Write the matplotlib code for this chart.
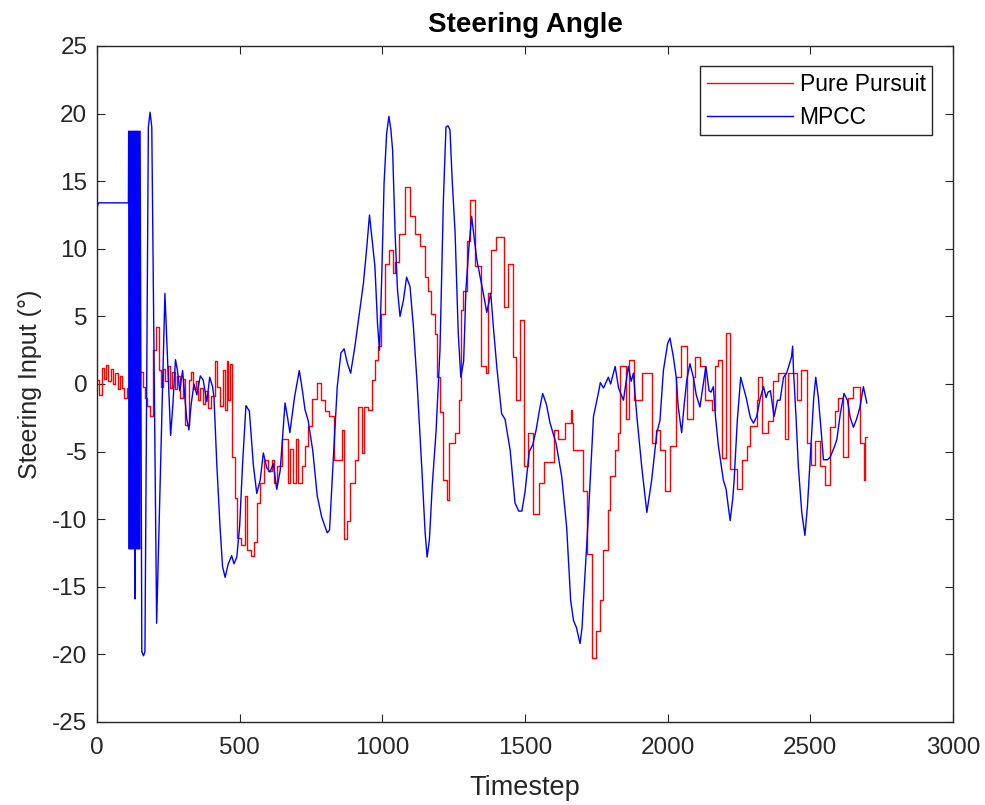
import matplotlib
matplotlib.use("Agg")
import matplotlib.pyplot as plt

plt.rcParams['font.family'] = ['Liberation Sans', 'DejaVu Sans']
plt.rcParams['axes.unicode_minus'] = False

# Pure Pursuit (step levels: start timestep, value)
pp_t = [0, 8, 16, 24, 32, 40, 48, 56, 64, 72, 80, 88, 96, 104, 112, 125, 140, 151, 160, 168,
        176, 186, 197, 208, 218, 223, 232, 240, 248, 256, 264, 272, 280, 290, 300, 308, 322, 330, 338, 346,
        354, 362, 372, 380, 390, 400, 414, 420, 430, 440, 448, 454, 460, 466, 472, 484, 492, 505, 518, 524,
        540, 550, 560, 572, 586, 600, 612, 620, 630, 650, 668, 676, 686, 696, 706, 718, 728, 740, 752, 770,
        785, 800, 812, 830, 860, 866, 876, 888, 903, 915, 929, 937, 950, 964, 976, 985, 997, 1010, 1024, 1037,
        1046, 1060, 1080, 1098, 1114, 1132, 1150, 1161, 1172, 1183, 1193, 1202, 1211, 1226, 1235, 1255, 1268, 1274, 1284, 1297,
        1307, 1326, 1345, 1362, 1369, 1382, 1400, 1426, 1442, 1459, 1468, 1483, 1495, 1512, 1527, 1550, 1565, 1600, 1617, 1640,
        1660, 1664, 1669, 1703, 1718, 1735, 1749, 1764, 1775, 1790, 1798, 1815, 1827, 1833, 1853, 1866, 1882, 1909, 1944, 1960,
        1973, 1990, 2007, 2028, 2046, 2067, 2090, 2096, 2113, 2131, 2154, 2166, 2177, 2189, 2206, 2218, 2244, 2259, 2277, 2288,
        2312, 2318, 2329, 2353, 2370, 2388, 2411, 2423, 2452, 2469, 2487, 2501, 2517, 2534, 2552, 2569, 2587, 2598, 2616, 2633,
        2651, 2674, 2688, 2692, 2700]
pp_v = [0.3, -0.8, 1.2, 0.4, 1.4, 0.2, 1.1, 0.0, 0.8, -0.4, 0.6, -0.3, -1.0, -0.3, 0.0, 0.3, 0.0, 0.9, -0.2, -1.0,
        -1.6, -2.4, 2.5, 4.2, 1.0, -0.2, 1.1, 0.2, 1.3, -0.3, 0.9, -0.4, 0.6, -1.0, 0.4, -3.0, 0.3, 0.9, -0.4, 0.2,
        -1.2, -0.3, -1.5, -0.5, -1.8, -0.9, 1.7, -0.2, -1.6, 1.0, -1.9, 1.7, -1.2, 1.5, -5.4, -8.4, -11.4, -11.9, -8.3, -12.3,
        -12.7, -11.7, -8.8, -7.3, -5.6, -6.4, -5.6, -7.3, -6.1, -4.1, -7.3, -4.8, -7.3, -4.1, -7.3, -6.1, -4.6, -3.1, -1.1, 0.1,
        -1.2, -2.0, -2.4, -5.6, -3.4, -11.5, -10.1, -7.3, -5.6, -1.7, -5.1, -1.7, -1.9, 0.3, 1.8, 2.8, 5.2, 8.9, 9.9, 8.2,
        9.0, 11.1, 14.6, 12.4, 11.1, 10.2, 7.9, 6.9, 5.2, 3.7, 0.5, -2.1, -7.1, -8.6, -4.4, -3.6, -1.2, 5.5, 6.9, 10.6,
        13.6, 8.7, 1.3, 0.8, 6.7, 9.9, 10.9, 5.7, 8.9, 2.0, -1.2, 4.7, -6.1, -3.6, -9.6, -7.3, -5.8, -3.4, -4.1, -2.9,
        -1.9, -2.9, -4.9, -7.9, -12.6, -20.3, -18.3, -16.0, -12.3, -9.3, -6.8, -4.9, -3.6, 1.3, -2.6, 1.8, -1.2, 0.8, -4.4, -3.4,
        -4.9, -7.9, -4.6, 0.5, 2.8, -2.6, 0.5, 2.0, 1.3, -1.2, -1.9, 1.3, 1.8, -5.5, 3.8, -6.3, -7.8, -5.6, -4.6, -3.1,
        -1.2, 0.5, -3.6, -2.7, 0.2, 0.8, -4.1, 0.8, -1.2, 1.0, -4.4, -6.0, -4.2, -6.1, -7.5, -3.2, -2.0, -1.0, -5.4, -1.0,
        -0.2, -4.4, -7.1, -3.9, -3.9]

# MPCC
mp_t = [0, 5, 110, 111, 113, 115, 117, 119, 121, 123, 125, 127, 129, 131, 133, 135, 137, 139, 141, 143,
        145, 147, 149, 151, 157, 163, 168, 180, 186, 192, 209, 238, 258, 266, 275, 282, 290, 300, 314, 322,
        330, 340, 350, 362, 372, 385, 395, 405, 410, 420, 431, 440, 449, 460, 472, 480, 490, 500, 510, 522,
        534, 548, 560, 572, 583, 595, 606, 618, 630, 642, 659, 668, 676, 692, 709, 720, 729, 740, 756, 772,
        787, 800, 807, 815, 828, 842, 855, 866, 878, 889, 904, 918, 934, 945, 955, 965, 974, 983, 990, 998,
        1006, 1015, 1023, 1030, 1036, 1045, 1053, 1062, 1074, 1085, 1097, 1109, 1122, 1138, 1150, 1157, 1165, 1175, 1188, 1202,
        1214, 1223, 1230, 1237, 1245, 1255, 1266, 1275, 1285, 1293, 1303, 1313, 1322, 1331, 1342, 1354, 1366, 1380, 1390, 1401,
        1418, 1430, 1448, 1465, 1478, 1489, 1500, 1515, 1527, 1539, 1550, 1562, 1575, 1588, 1609, 1629, 1646, 1660, 1670, 1680,
        1693, 1700, 1705, 1722, 1740, 1755, 1764, 1775, 1792, 1800, 1816, 1828, 1845, 1862, 1872, 1880, 1892, 1909, 1927, 1944,
        1962, 1973, 1985, 1991, 2000, 2008, 2020, 2030, 2037, 2049, 2058, 2067, 2078, 2090, 2100, 2113, 2125, 2134, 2145, 2152,
        2160, 2168, 2178, 2195, 2205, 2212, 2219, 2228, 2233, 2244, 2256, 2265, 2275, 2290, 2301, 2312, 2325, 2336, 2345, 2352,
        2360, 2373, 2385, 2394, 2406, 2417, 2427, 2434, 2438, 2441, 2450, 2458, 2470, 2481, 2490, 2505, 2512, 2519, 2528, 2538,
        2546, 2560, 2570, 2585, 2593, 2605, 2618, 2630, 2640, 2651, 2662, 2674, 2686, 2692, 2698]
mp_v = [13.0, 13.4, 13.4, 18.7, -12.2, 18.7, -12.2, 18.7, -12.2, 18.7, -12.2, 18.7, -12.2, 18.7, -15.9, 18.7, -12.2, 18.7, -12.2, 18.7,
        -12.2, 18.7, -12.2, 18.7, -19.8, -20.1, -19.8, 19.0, 20.1, 19.0, -17.7, 6.7, -3.8, -1.5, 1.8, 1.0, -0.5, 1.0, -2.5, -3.4,
        -1.5, 0.0, -0.8, 0.6, 0.3, -1.3, 0.5, -0.2, -1.0, -6.0, -10.5, -13.5, -14.3, -13.3, -12.7, -13.3, -12.8, -10.5, -6.0, -1.6,
        -2.0, -6.0, -8.1, -7.1, -5.1, -6.2, -6.5, -5.9, -7.8, -6.4, -1.4, -2.5, -3.6, -1.0, 1.0, -0.5, -1.9, -2.7, -4.9, -8.3,
        -9.8, -10.6, -11.0, -10.8, -5.6, -0.2, 2.3, 2.6, 1.5, 0.8, 2.8, 5.0, 7.5, 10.0, 12.5, 10.5, 8.7, 4.5, 2.5, 8.0,
        14.8, 18.5, 19.8, 18.8, 17.3, 11.0, 7.0, 5.0, 6.2, 7.9, 7.2, 4.2, 0.0, -6.1, -11.0, -12.8, -11.5, -7.5, -3.6, 2.5,
        13.6, 19.0, 19.1, 18.8, 15.0, 11.2, 3.8, 0.5, 1.7, 7.0, 10.0, 12.4, 10.8, 9.2, 8.0, 6.7, 5.3, 6.7, 4.0, 1.3,
        -2.2, -2.6, -4.9, -8.8, -9.4, -9.4, -8.0, -5.0, -4.5, -3.4, -2.0, -0.7, -1.5, -2.9, -4.4, -6.9, -10.6, -16.0, -17.5, -18.0,
        -19.2, -18.0, -16.0, -9.8, -2.4, -0.9, 0.1, -0.3, 0.5, 0.0, 1.3, -0.3, -1.2, 1.3, 0.2, 0.8, -2.4, -6.1, -9.5, -7.1,
        -3.6, -2.7, 1.0, 1.8, 3.0, 3.4, 2.0, 0.5, -1.7, -3.6, -1.5, 0.3, 1.5, 0.5, -0.8, -1.7, 0.0, 1.3, -0.5, -0.6,
        -0.2, -2.5, -4.6, -7.1, -7.8, -9.0, -10.1, -8.5, -7.1, -2.7, 0.5, -0.2, -1.0, -2.5, -2.9, -2.4, -1.0, -0.2, -1.0, -0.6,
        -0.5, -2.4, -1.2, -1.2, 0.5, 0.8, 1.5, 2.0, 2.8, 1.0, -2.5, -6.1, -9.5, -11.2, -9.0, -3.6, -1.0, 0.5, -1.0, -3.5,
        -5.6, -5.6, -5.4, -4.6, -4.1, -2.2, -0.7, -1.2, -2.5, -3.2, -2.6, -1.7, -0.2, -0.8, -1.4]

x_ticks = [0, 500, 1000, 1500, 2000, 2500, 3000]
y_ticks = [-25, -20, -15, -10, -5, 0, 5, 10, 15, 20, 25]
series_labels = ["Pure Pursuit", "MPCC"]

fig = plt.figure(figsize=(9.85, 8.05), dpi=100)
ax = fig.add_axes([97 / 985, 1 - 722 / 805, 856 / 985, 676 / 805])

ax.plot(pp_t, pp_v, color=(1, 0, 0), lw=1.0, drawstyle='steps-post', label=series_labels[0])
ax.plot(mp_t, mp_v, color=(0, 0, 1), lw=1.0, label=series_labels[1])

ax.set_xlim(0, 3000)
ax.set_ylim(-25, 25)
ax.set_xticks(x_ticks)
ax.set_yticks(y_ticks)

axc = '#262626'
for s in ax.spines.values():
    s.set_color(axc)
    s.set_linewidth(1.0)
ax.tick_params(direction='in', length=6, width=0.8, colors=axc, labelsize=17.5,
               top=True, right=True, labelcolor=axc)
ax.tick_params(axis='x', pad=11)
ax.tick_params(axis='y', pad=7)

ax.set_xlabel('Timestep', fontsize=19.5, color=axc, labelpad=11)
ax.set_ylabel('Steering Input (°)', fontsize=18, color=axc, labelpad=7)
ax.set_title('Steering Angle', fontsize=20, fontweight='bold', color='black', pad=10)

leg = ax.legend(loc='upper right', bbox_to_anchor=(0.9755, 0.970), borderaxespad=0,
                fontsize=16.5, fancybox=False, framealpha=1, edgecolor=axc,
                handlelength=3.75, handletextpad=0.3, labelspacing=0.45, borderpad=0.28)
leg.get_frame().set_linewidth(1.0)

fig.savefig('out.png', dpi=100, facecolor='white')
